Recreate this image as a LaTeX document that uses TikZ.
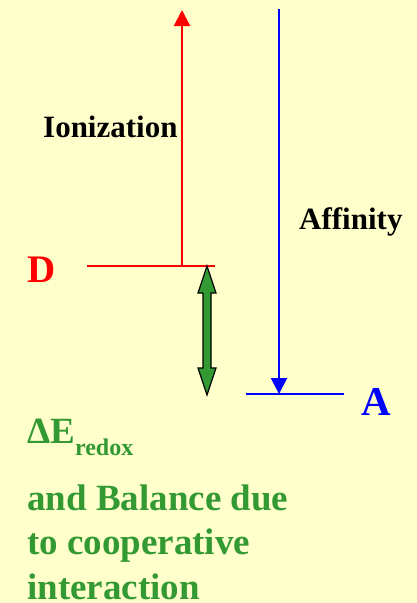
\documentclass[tikz,border=0pt]{standalone}
\usepackage{fontspec}
\setmainfont{Liberation Serif}
\usetikzlibrary{arrows.meta,positioning}
\definecolor{bgyellow}{RGB}{255,255,204}
\definecolor{grn}{RGB}{51,153,51}

\begin{document}
\begin{tikzpicture}[
  x=1pt, y=-1pt,
  lvl/.style={line width=2pt},
  arr/.style={line width=2pt, -{Triangle[length=16pt, width=16pt]}},
  lbl/.style={inner sep=0pt, anchor=base west, font=\bfseries\fontsize{31}{31}\selectfont},
  grntxt/.style={inner sep=0pt, anchor=base west, text=grn, font=\bfseries\fontsize{37}{37}\selectfont}
]
\fill[bgyellow] (0,0) rectangle (417,603);
\useasboundingbox (0,0) rectangle (417,603);

% levels
\coordinate (dL) at (87,266);
\coordinate (dR) at (215,266);
\coordinate (dMid) at (182,266);
\coordinate (ionTop) at (182,10);
\coordinate (aL) at (246,394);
\coordinate (aR) at (344,394);
\coordinate (aMid) at (279,394);
\coordinate (affTop) at (279,9);

\draw[lvl, red] (dL) -- (dR);
\draw[lvl, blue] (aL) -- (aR);
\draw[arr, red] (dMid) -- (ionTop);
\draw[arr, blue] (affTop) -- (aMid);

\node[lbl] (ion) at (43,137) {Ionization};
\node[lbl] (aff) at (299,229) {Affinity};
\node[lbl, text=red, font=\bfseries\fontsize{39}{39}\selectfont] (donor) at (27,282) {D};
\node[lbl, text=blue, font=\bfseries\fontsize{41}{41}\selectfont] (acc) at (361,415) {A};

% redox gap
\filldraw[fill=grn, draw=black, line width=1.2pt]
  (207,266) -- (216,293) -- (211,293) -- (211,368) -- (216,368) -- (207,395)
  -- (198,368) -- (203,368) -- (203,293) -- (198,293) -- cycle;

\node[grntxt] (dE) at (27,443) {ΔE\raisebox{-12pt}{\fontsize{24}{24}\selectfont redox}};
\node[grntxt] (bal1) at (27,510) {and Balance due};
\node[grntxt] (bal2) at ([yshift=-44pt]bal1.base west) {to cooperative};
\node[grntxt] (bal3) at ([yshift=-45pt]bal2.base west) {interaction};
\end{tikzpicture}
\end{document}
